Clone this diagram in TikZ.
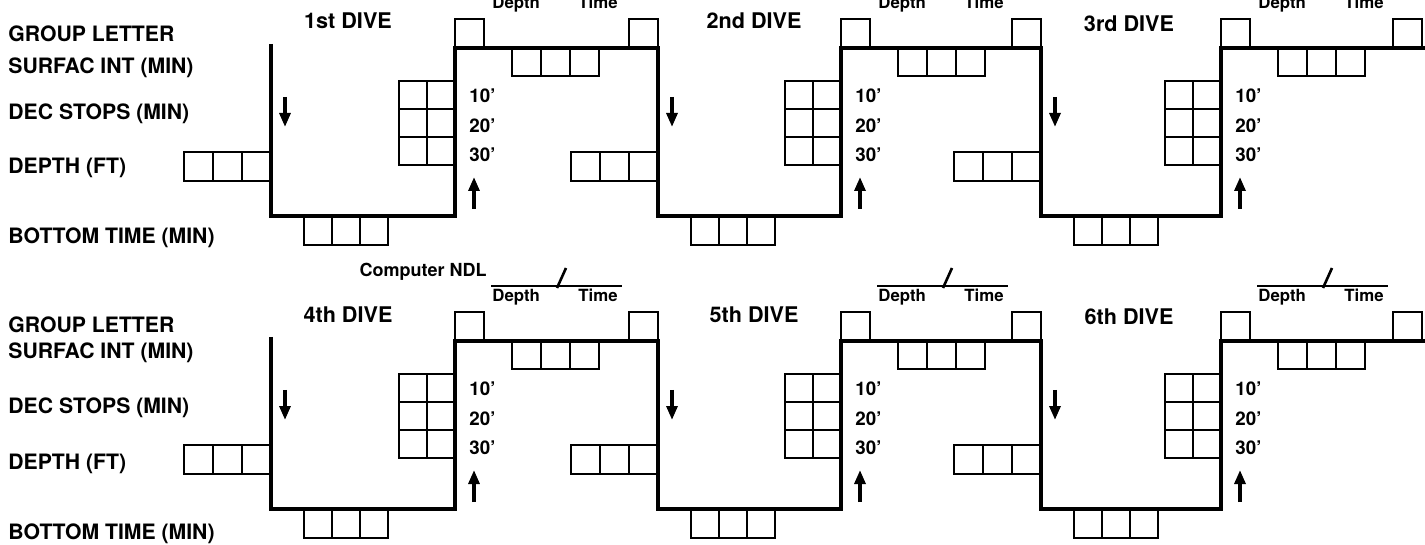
\documentclass[tikz,border=0pt]{standalone}
\usepackage{fontspec}
\setmainfont{TeX Gyre Heros}
\usetikzlibrary{arrows.meta}

\begin{document}
\begin{tikzpicture}[x=0.5pt,y=-0.5pt,>={Triangle[length=7pt,width=5.4pt]},
 profile/.style={line width=2.4pt,line join=miter},
 box/.style={line width=1.3pt},
 arrow/.style={->,line width=1.8pt},
 lbl/.style={anchor=base west,inner sep=0pt,font=\fontsize{10.6}{12}\selectfont\bfseries},
 title/.style={anchor=base,inner sep=0pt,font=\fontsize{10.8}{12}\selectfont\bfseries},
 stop/.style={anchor=west,inner sep=0pt,font=\fontsize{9.4}{10}\selectfont\bfseries},
 ndl/.style={inner sep=0pt,font=\fontsize{8.4}{10}\selectfont\bfseries}]
\useasboundingbox (0,0) rectangle (1425,545);
\clip (0,0) rectangle (1425,545);
\node[lbl] (grp1) at (8,42) {GROUP LETTER};
\node[lbl] (surf1) at (8,74) {SURFAC INT (MIN)};
\node[lbl] (dec1) at (8,120) {DEC STOPS (MIN)};
\node[lbl] (dep1) at (8,174) {DEPTH (FT)};
\node[lbl] (bot1) at (8,244) {BOTTOM TIME (MIN)};
\node[lbl] (grp2) at (8,333) {GROUP LETTER};
\node[lbl] (surf2) at (8,358) {SURFAC INT (MIN)};
\node[lbl] (dec2) at (8,414) {DEC STOPS (MIN)};
\node[lbl] (dep2) at (8,469) {DEPTH (FT)};
\node[lbl] (bot2) at (8,539) {BOTTOM TIME (MIN)};
\node[ndl,anchor=base east,font=\fontsize{9}{10}\selectfont\bfseries] (cndl) at (487,277) {Computer NDL};
\foreach \r/\ta/\tb/\tc in {0/1st/2nd/3rd,293/4th/5th/6th}{
 \draw[profile] (271,\r+44) -- (271,\r+216) -- (455,\r+216) -- (455,\r+48) -- (658,\r+48)
  -- (658,\r+216) -- (841,\r+216) -- (841,\r+48) -- (1041,\r+48) -- (1041,\r+216)
  -- (1221,\r+216) -- (1221,\r+48) -- (1425,\r+48);
 \foreach \d/\a/\n/\tx/\ty/\g in {271/455/\ta/77/29/658,658/841/\tb/96/29/1041,1041/1221/\tc/88/32/1422}{
  \foreach \i in {1,2,3} \draw[box] (\d-\i*29,\r+152) rectangle ++(29,29);
  \foreach \i in {0,1,2} \draw[box] (\d+33+\i*28,\r+216) rectangle ++(28,29);
  \foreach \i in {1,2} \foreach \j in {0,1,2} \draw[box] (\a-\i*28,\r+81+\j*28) rectangle ++(28,28);
  \foreach \i in {0,1,2} \draw[box] (\a+57+\i*29,\r+48) rectangle ++(29,28);
  \draw[box] (\a,\r+19) rectangle (\a+29,\r+48);
  \draw[box] (\g-29,\r+19) rectangle (\g,\r+48);
  \draw[arrow] (\d+14,\r+97) -- (\d+14,\r+127);
  \draw[arrow] (\a+19,\r+209) -- (\a+19,\r+177);
  \foreach \s/\yy in {10/96,20/126,30/155} \node[stop] (\n-\s) at (\a+14,\r+\yy) {\s'};
  \node[title] (dive\n) at (\d+\tx,\r+\ty) {\n\ DIVE};
  \draw[box] (\a+36,\r-7) -- ++(131,0);
  \draw[box] (\a+102,\r-5) -- ++(9,-20);
  \node[ndl,anchor=base west] (\n-depth) at (\a+37,\r+9) {Depth};
  \node[ndl,anchor=base east] (\n-time) at (\a+163,\r+9) {Time};
 }
}
\end{tikzpicture}
\end{document}
